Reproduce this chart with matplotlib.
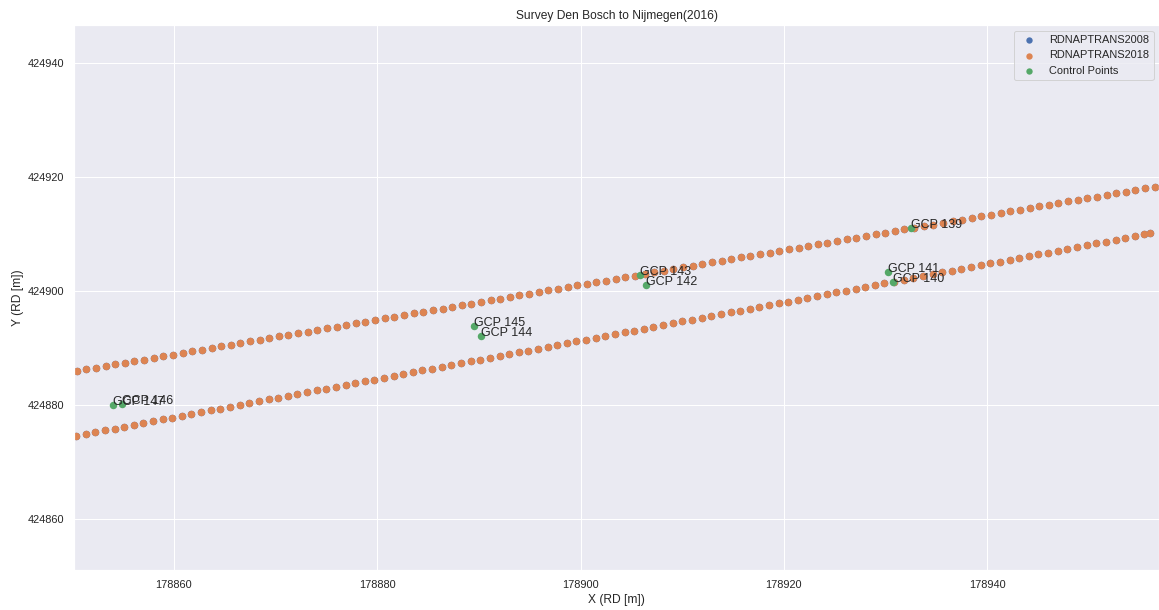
import matplotlib
matplotlib.use("Agg")
import matplotlib.pyplot as plt
import numpy as np
import seaborn as sns

# Local origin of the RD grid used for the track offsets (metres)
E0 = 178850.0
N0 = 424850.0

# Northern track: easting / northing offsets from the origin
upper_e = [
    0.43, 1.38, 2.32, 3.27, 4.22, 5.17, 6.11, 7.06, 8.01, 8.95,
    9.90, 10.85, 11.79, 12.74, 13.69, 14.64, 15.58, 16.53, 17.48, 18.42,
    19.37, 20.32, 21.26, 22.21, 23.16, 24.11, 25.05, 26.00, 26.95, 27.89,
    28.84, 29.79, 30.73, 31.68, 32.63, 33.58, 34.52, 35.47, 36.42, 37.36,
    38.31, 39.26, 40.20, 41.15, 42.10, 43.05, 43.99, 44.94, 45.89, 46.83,
    47.78, 48.73, 49.67, 50.62, 51.57, 52.52, 53.46, 54.41, 55.36, 56.30,
    57.25, 58.20, 59.14, 60.09, 61.04, 61.99, 62.93, 63.88, 64.83, 65.77,
    66.72, 67.67, 68.61, 69.56, 70.51, 71.46, 72.40, 73.35, 74.30, 75.24,
    76.19, 77.14, 78.08, 79.03, 79.98, 80.93, 81.87, 82.82, 83.77, 84.71,
    85.66, 86.61, 87.55, 88.50, 89.45, 90.40, 91.34, 92.29, 93.24, 94.18,
    95.13, 96.08, 97.02, 97.97, 98.92, 99.87, 100.81, 101.76, 102.71, 103.65,
    104.60, 105.55, 106.49,
]
upper_n = [
    35.96, 36.25, 36.54, 36.83, 37.12, 37.40, 37.69, 37.98, 38.27, 38.56,
    38.85, 39.14, 39.43, 39.71, 40.00, 40.29, 40.58, 40.87, 41.16, 41.45,
    41.74, 42.02, 42.31, 42.60, 42.89, 43.18, 43.47, 43.76, 44.05, 44.34,
    44.62, 44.91, 45.20, 45.49, 45.78, 46.07, 46.36, 46.65, 46.93, 47.22,
    47.51, 47.80, 48.09, 48.38, 48.67, 48.96, 49.24, 49.53, 49.82, 50.11,
    50.40, 50.69, 50.98, 51.27, 51.56, 51.84, 52.13, 52.42, 52.71, 53.00,
    53.29, 53.58, 53.87, 54.15, 54.44, 54.73, 55.02, 55.31, 55.60, 55.89,
    56.18, 56.46, 56.75, 57.04, 57.33, 57.62, 57.91, 58.20, 58.49, 58.78,
    59.06, 59.35, 59.64, 59.93, 60.22, 60.51, 60.80, 61.09, 61.37, 61.66,
    61.95, 62.24, 62.53, 62.82, 63.11, 63.40, 63.68, 63.97, 64.26, 64.55,
    64.84, 65.13, 65.42, 65.71, 66.00, 66.28, 66.57, 66.86, 67.15, 67.44,
    67.73, 68.02, 68.31,
]

# Southern track: easting / northing offsets from the origin
lower_e = [
    0.36, 1.31, 2.25, 3.20, 4.15, 5.10, 6.04, 6.99, 7.94, 8.88,
    9.83, 10.78, 11.72, 12.67, 13.62, 14.57, 15.51, 16.46, 17.41, 18.35,
    19.30, 20.25, 21.19, 22.14, 23.09, 24.04, 24.98, 25.93, 26.88, 27.82,
    28.77, 29.72, 30.66, 31.61, 32.56, 33.51, 34.45, 35.40, 36.35, 37.29,
    38.24, 39.19, 40.13, 41.08, 42.03, 42.98, 43.92, 44.87, 45.82, 46.76,
    47.71, 48.66, 49.60, 50.55, 51.50, 52.45, 53.39, 54.34, 55.29, 56.23,
    57.18, 58.13, 59.07, 60.02, 60.97, 61.92, 62.86, 63.81, 64.76, 65.70,
    66.65, 67.60, 68.54, 69.49, 70.44, 71.39, 72.33, 73.28, 74.23, 75.17,
    76.12, 77.07, 78.01, 78.96, 79.91, 80.86, 81.80, 82.75, 83.70, 84.64,
    85.59, 86.54, 87.48, 88.43, 89.38, 90.33, 91.27, 92.22, 93.17, 94.11,
    95.06, 96.01, 96.95, 97.90, 98.85, 99.80, 100.74, 101.69, 102.64, 103.58,
    104.53, 105.48, 106.00,
]
lower_n = [
    24.60, 24.92, 25.24, 25.55, 25.87, 26.19, 26.51, 26.83, 27.15, 27.46,
    27.78, 28.10, 28.42, 28.74, 29.06, 29.37, 29.69, 30.01, 30.33, 30.65,
    30.97, 31.28, 31.60, 31.92, 32.24, 32.56, 32.88, 33.19, 33.51, 33.83,
    34.15, 34.47, 34.79, 35.10, 35.42, 35.74, 36.06, 36.38, 36.70, 37.01,
    37.33, 37.65, 37.97, 38.29, 38.61, 38.92, 39.24, 39.56, 39.88, 40.20,
    40.52, 40.83, 41.15, 41.47, 41.79, 42.11, 42.42, 42.74, 43.06, 43.38,
    43.70, 44.02, 44.33, 44.65, 44.97, 45.29, 45.61, 45.93, 46.24, 46.56,
    46.88, 47.20, 47.52, 47.84, 48.15, 48.47, 48.79, 49.11, 49.43, 49.75,
    50.06, 50.38, 50.70, 51.02, 51.34, 51.66, 51.97, 52.29, 52.61, 52.93,
    53.25, 53.57, 53.88, 54.20, 54.52, 54.84, 55.16, 55.48, 55.79, 56.11,
    56.43, 56.75, 57.07, 57.39, 57.70, 58.02, 58.34, 58.66, 58.98, 59.29,
    59.61, 59.93, 60.10,
]

# Ground control points
gcp_names = ["GCP 139", "GCP 140", "GCP 141", "GCP 142", "GCP 143",
             "GCP 144", "GCP 145", "GCP 146", "GCP 147"]
gcp_x = [178932.55, 178930.78, 178930.29, 178906.43, 178905.87,
         178890.17, 178889.51, 178854.91, 178854.03]
gcp_y = [424911.05, 424901.65, 424903.40, 424901.10, 424902.85,
         424892.15, 424893.80, 424880.20, 424880.00]

sns.set_theme()
plt.rcParams["font.family"] = ["Liberation Sans", "DejaVu Sans"]

track_x = E0 + np.concatenate([upper_e, lower_e])
track_y = N0 + np.concatenate([upper_n, lower_n])

DPI = 72
fig = plt.figure(figsize=(1159 / DPI, 610 / DPI), dpi=DPI)
ax = fig.add_axes([74 / 1159, 40 / 610, 1085 / 1159, 545 / 610])

MS = 56
ax.scatter(track_x, track_y, s=MS, color="C0", linewidths=0,
           label="RDNAPTRANS2008")
ax.scatter(track_x, track_y, s=MS, color="C1", linewidths=0,
           label="RDNAPTRANS2018")
ax.scatter(gcp_x, gcp_y, s=MS, color="C2", linewidths=0,
           label="Control Points")
for name, x, y in zip(gcp_names, gcp_x, gcp_y):
    ax.text(x, y, name, fontsize=12.5, color="#262626")

ax.set_xlim(178850.16, 178956.92)
ax.set_ylim(424851.05, 424946.67)
ax.set_xticks([178860, 178880, 178900, 178920, 178940])
ax.set_yticks([424860, 424880, 424900, 424920, 424940])
ax.ticklabel_format(useOffset=False, style="plain")

ax.set_title("Survey Den Bosch to Nijmegen(2016)")
ax.set_xlabel("X (RD [m])")
ax.set_ylabel("Y (RD [m])")
ax.legend(loc="upper right", markerscale=0.85)

fig.savefig("out.png", dpi=DPI)
